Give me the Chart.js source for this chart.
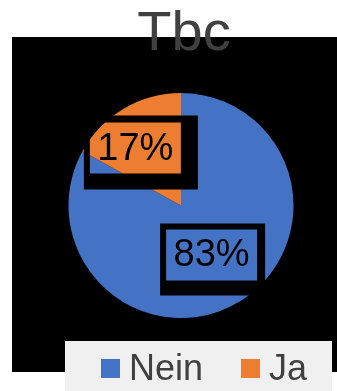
<!DOCTYPE html>
<html lang="de">
<head>
<meta charset="UTF-8">
<title>Tbc</title>
<script src="https://cdn.jsdelivr.net/npm/chart.js"></script>
<style>
  html, body { margin: 0; padding: 0; background: #fff; }
  #wrap { width: 337px; height: 391px; position: relative; }
</style>
</head>
<body>
<div id="wrap">
  <canvas id="chart1" width="337" height="391"></canvas>
</div>
<script>
// pie data
var chartTitle = 'Tbc';
var labels = ['Nein', 'Ja'];
var values = [83, 17];
var colors = ['#4472C4', '#ED7D31'];

var FONT = '"Liberation Sans", Arial, sans-serif';

// black plot backdrop, drawn before the pie
var backdrop = {
  id: 'backdrop',
  beforeDraw: function (chart) {
    var c = chart.ctx;
    c.save();
    c.fillStyle = '#000';
    c.fillRect(12, 37, 325, 335);
    c.restore();
  }
};

// percent labels with a framed box on each slice
var sliceLabels = {
  id: 'sliceLabels',
  afterDatasetsDraw: function (chart) {
    var c = chart.ctx;
    var meta = chart.getDatasetMeta(0);
    var total = values.reduce(function (a, b) { return a + b; }, 0);
    // fine offsets per slice and frame widths [left, top, right, bottom]
    var nudge = [[2, 1], [-17, -9]];
    var frame = [[6, 6, 8, 15], [6, 7, 17, 16]];
    meta.data.forEach(function (arc, i) {
      var p = arc.getProps(['x', 'y', 'startAngle', 'endAngle', 'outerRadius'], true);
      var mid = (p.startAngle + p.endAngle) / 2;
      var r = p.outerRadius * 0.5;
      var cx = p.x + Math.cos(mid) * r + nudge[i][0];
      var cy = p.y + Math.sin(mid) * r + nudge[i][1];
      var w = 91, h = 51;
      var x0 = cx - w / 2, y0 = cy - h / 2;
      var f = frame[i];
      c.save();
      c.beginPath();
      c.rect(x0 - f[0], y0 - f[1], w + f[0] + f[2], h + f[1] + f[3]);
      c.rect(x0, y0, w, h);
      c.fillStyle = '#000';
      c.fill('evenodd');
      c.font = '38px ' + FONT;
      c.textAlign = 'center';
      c.textBaseline = 'middle';
      c.fillStyle = '#000';
      c.fillText(Math.round(values[i] / total * 100) + '%', cx, cy + 1);
      c.restore();
    });
  }
};

// title and legend box
var titleLegend = {
  id: 'titleLegend',
  afterDraw: function (chart) {
    var c = chart.ctx;
    c.save();
    c.fillStyle = '#404040';
    c.font = '56px ' + FONT;
    c.textAlign = 'center';
    c.textBaseline = 'alphabetic';
    c.fillText(chartTitle, 184, 50);

    c.fillStyle = '#F0F0F0';
    c.fillRect(65, 341, 267, 50);
    var xs = [101, 241];
    c.font = '36px ' + FONT;
    c.textAlign = 'left';
    labels.forEach(function (lab, i) {
      c.fillStyle = colors[i];
      c.fillRect(xs[i], 359, 19, 19);
      c.fillStyle = '#404040';
      c.fillText(lab, xs[i] + 28, 380);
    });
    c.restore();
  }
};

var ctx = document.getElementById('chart1').getContext('2d');
var myPie = new Chart(ctx, {
  type: 'pie',
  data: {
    labels: labels,
    datasets: [{
      data: values,
      backgroundColor: colors,
      borderWidth: 0
    }]
  },
  options: {
    responsive: false,
    animation: false,
    layout: { padding: { left: 68, right: 43, top: 93, bottom: 73 } },
    plugins: {
      legend: { display: false },
      title: { display: false },
      tooltip: { enabled: false }
    }
  },
  plugins: [backdrop, sliceLabels, titleLegend]
});
</script>
</body>
</html>
